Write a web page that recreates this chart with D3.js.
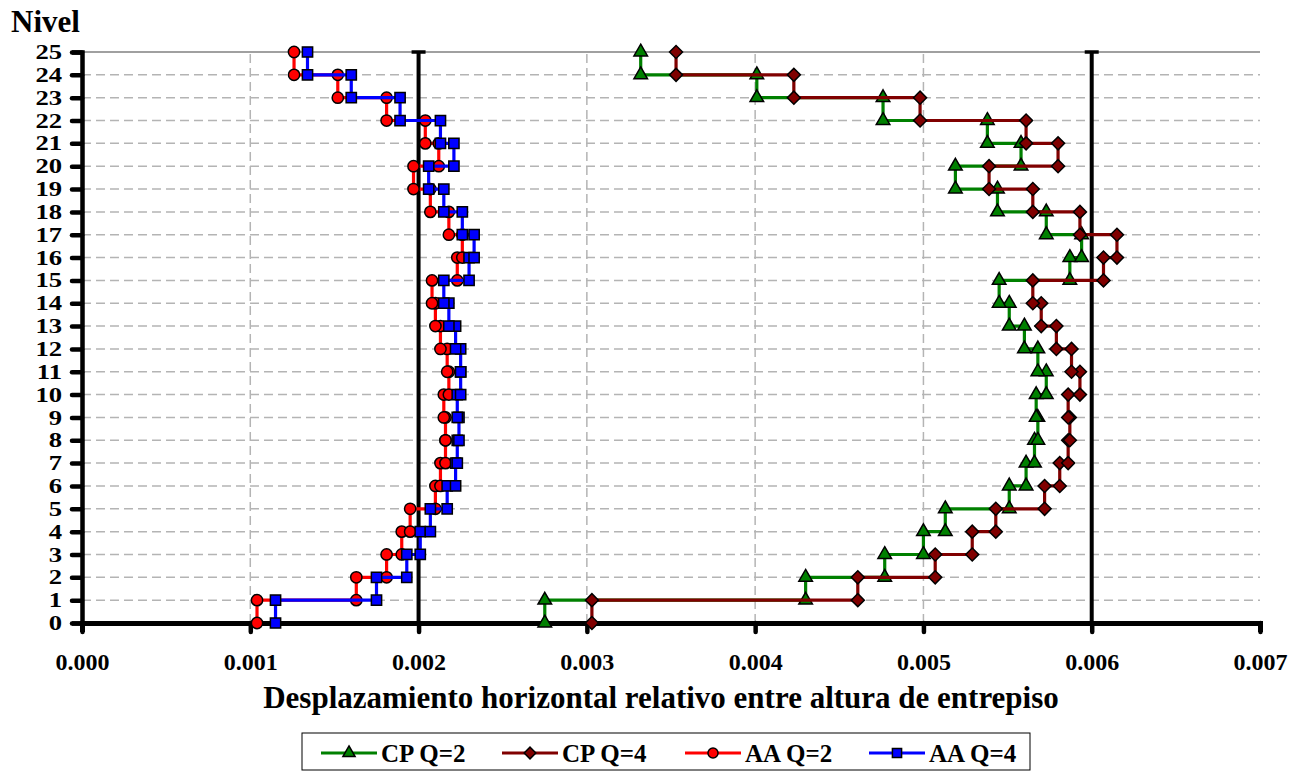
<!DOCTYPE html>
<html><head><meta charset="utf-8">
<script src="https://cdn.jsdelivr.net/npm/d3@7"></script>
<style>
body{margin:0;background:#fff;}
svg text{font-family:"Liberation Serif","Times New Roman",serif;font-weight:bold;fill:#000;}
</style>
</head><body>
<svg id="chart" width="1306" height="771"></svg>
<script>
// ---- data ----
const levelTicks = d3.range(0, 26);                 // Nivel 0..25
const xTickValues = [0, 0.001, 0.002, 0.003, 0.004, 0.005, 0.006, 0.007];
const xTickLabels = ["0.000","0.001","0.002","0.003","0.004","0.005","0.006","0.007"];
const limitValues = [0.002, 0.006];
const seriesNames = ["CP Q=2", "CP Q=4", "AA Q=2", "AA Q=4"];
// story drift for stories 1..25
const cpQ2 = [0.00275,0.00430,0.00477,0.00500,0.00513,0.00551,0.00561,0.00566,0.00568,0.00567,
              0.00573,0.00568,0.00560,0.00551,0.00545,0.00587,0.00594,0.00573,0.00544,0.00519,
              0.00558,0.00538,0.00476,0.00401,0.00332];
const cpQ4 = [0.00303,0.00461,0.00507,0.00529,0.00543,0.00572,0.00581,0.00586,0.00587,0.00586,
              0.00593,0.00588,0.00579,0.00570,0.00565,0.00607,0.00615,0.00593,0.00565,0.00539,
              0.00580,0.00561,0.00498,0.00423,0.00353];
const aaQ2 = [0.00104,0.00163,0.00181,0.00190,0.00195,0.00210,0.00213,0.00216,0.00216,0.00215,
              0.00218,0.00217,0.00213,0.00210,0.00208,0.00223,0.00226,0.00218,0.00207,0.00197,
              0.00212,0.00204,0.00181,0.00152,0.00126];
const aaQ4 = [0.00115,0.00175,0.00193,0.00201,0.00207,0.00217,0.00222,0.00223,0.00224,0.00223,
              0.00225,0.00225,0.00222,0.00218,0.00215,0.00230,0.00233,0.00226,0.00215,0.00206,
              0.00221,0.00213,0.00189,0.00160,0.00134];

const seriesData = [cpQ2, cpQ4, aaQ2, aaQ4];
const seriesColors = ["#008000", "#800000", "#ff0000", "#0000ff"];
const seriesSymbols = ["triangle", "diamond", "circle", "square"];

// ---- layout ----
const svg = d3.select("#chart");
const x = d3.scaleLinear().domain([0, 0.007]).range([82, 1260]);
const y = d3.scaleLinear().domain([0, 25]).range([623, 52]);

// grid
const grid = svg.append("g");
grid.selectAll("line.h").data(levelTicks.filter(d => d > 0 && d < 25)).enter().append("line")
  .attr("x1", x(0)).attr("x2", x(0.007)).attr("y1", d => y(d)).attr("y2", d => y(d))
  .attr("stroke", "#b4b4b4").attr("stroke-width", 1.5).attr("stroke-dasharray", "9,5");
grid.selectAll("line.v").data(xTickValues.filter(d => d > 0 && d < 0.007)).enter().append("line")
  .attr("x1", d => x(d)).attr("x2", d => x(d)).attr("y1", y(0)).attr("y2", y(25))
  .attr("stroke", "#b4b4b4").attr("stroke-width", 1.5).attr("stroke-dasharray", "9,5");
// top border
svg.append("line").attr("x1", x(0)).attr("x2", x(0.007)).attr("y1", y(25)).attr("y2", y(25))
  .attr("stroke", "#808080").attr("stroke-width", 1.5);

// limit lines
limitValues.forEach(v => {
  svg.append("line").attr("x1", x(v)).attr("x2", x(v)).attr("y1", y(25)).attr("y2", y(0))
    .attr("stroke", "#000").attr("stroke-width", 4);
  svg.append("line").attr("x1", x(v) - 7).attr("x2", x(v) + 7).attr("y1", y(25)).attr("y2", y(25))
    .attr("stroke", "#000").attr("stroke-width", 3.5);
});

// axes
const yLabelScale = 1.3;
const yAxis = d3.axisLeft(y).tickValues(levelTicks).tickFormat(d3.format("d")).tickSize(10).tickPadding(10);
const gy = svg.append("g").attr("transform", `translate(${x(0)},0)`).call(yAxis);
gy.select(".domain").attr("stroke", "#000").attr("stroke-width", 4.5);
gy.selectAll(".tick line").attr("stroke", "#000").attr("stroke-width", 4.5).attr("stroke-linecap", "round");
gy.selectAll(".tick text").attr("font-size", 20.5).attr("font-family", "Liberation Serif").attr("font-weight", "bold")
  .attr("x", -20 / yLabelScale).attr("transform", `scale(${yLabelScale},1)`);

const xAxis = d3.axisBottom(x).tickValues(xTickValues).tickFormat((d, i) => xTickLabels[i]).tickSize(9).tickPadding(21);
const gx = svg.append("g").attr("transform", `translate(0,${y(0)})`).call(xAxis);
gx.select(".domain").attr("stroke", "#000").attr("stroke-width", 5);
gx.selectAll(".tick line").attr("stroke", "#000").attr("stroke-width", 4.5).attr("stroke-linecap", "round");
gx.selectAll(".tick text").attr("font-size", 24).attr("font-family", "Liberation Serif").attr("font-weight", "bold");
svg.selectAll(".domain").attr("stroke-linecap", "butt");

// symbols
function symbolPath(kind, scale) {
  const s = scale || 1;
  if (kind === "triangle") return d3.symbol(d3.symbolTriangle, 80 * s)();
  if (kind === "diamond") return d3.symbol(d3.symbolSquare, 85 * s)();
  if (kind === "circle") return d3.symbol(d3.symbolCircle, 100 * s)();
  return d3.symbol(d3.symbolSquare, 105 * s)();
}
function symbolTransform(kind, px, py) {
  return kind === "diamond" ? `translate(${px},${py}) rotate(45)` : `translate(${px},${py})`;
}

// series
const line = d3.line().x(d => x(d[0])).y(d => y(d[1]));
seriesData.forEach((vals, si) => {
  const pts = [];
  vals.forEach((v, i) => { pts.push([v, i]); pts.push([v, i + 1]); });
  const g = svg.append("g");
  g.append("path").datum(pts).attr("d", line).attr("fill", "none")
    .attr("stroke", seriesColors[si]).attr("stroke-width", 3.2).attr("stroke-linejoin", "miter");
  g.selectAll("path.m").data(pts).enter().append("path")
    .attr("d", symbolPath(seriesSymbols[si]))
    .attr("transform", d => symbolTransform(seriesSymbols[si], x(d[0]), y(d[1])))
    .attr("fill", seriesColors[si]).attr("stroke", "#000").attr("stroke-width", 1.5);
});

// titles
svg.append("text").attr("x", 11).attr("y", 32).attr("font-size", 31).text("Nivel");
svg.append("text").attr("x", 661).attr("y", 708).attr("text-anchor", "middle").attr("font-size", 31)
  .text("Desplazamiento horizontal relativo entre altura de entrepiso");

// legend
const lg = svg.append("g");
lg.append("rect").attr("x", 302).attr("y", 733).attr("width", 728).attr("height", 37)
  .attr("fill", "#fff").attr("stroke", "#000").attr("stroke-width", 1);
const legendLineX = [321, 502, 685, 869];
seriesNames.forEach((name, i) => {
  const lx = legendLineX[i];
  lg.append("line").attr("x1", lx).attr("x2", lx + 56).attr("y1", 753).attr("y2", 753)
    .attr("stroke", seriesColors[i]).attr("stroke-width", 3.2);
  lg.append("path").attr("d", symbolPath(seriesSymbols[i], 0.8))
    .attr("transform", symbolTransform(seriesSymbols[i], lx + 28, 753))
    .attr("fill", seriesColors[i]).attr("stroke", "#000").attr("stroke-width", 1.5);
  lg.append("text").attr("x", lx + 60).attr("y", 762).attr("font-size", 25).text(name);
});
</script>
</body></html>
